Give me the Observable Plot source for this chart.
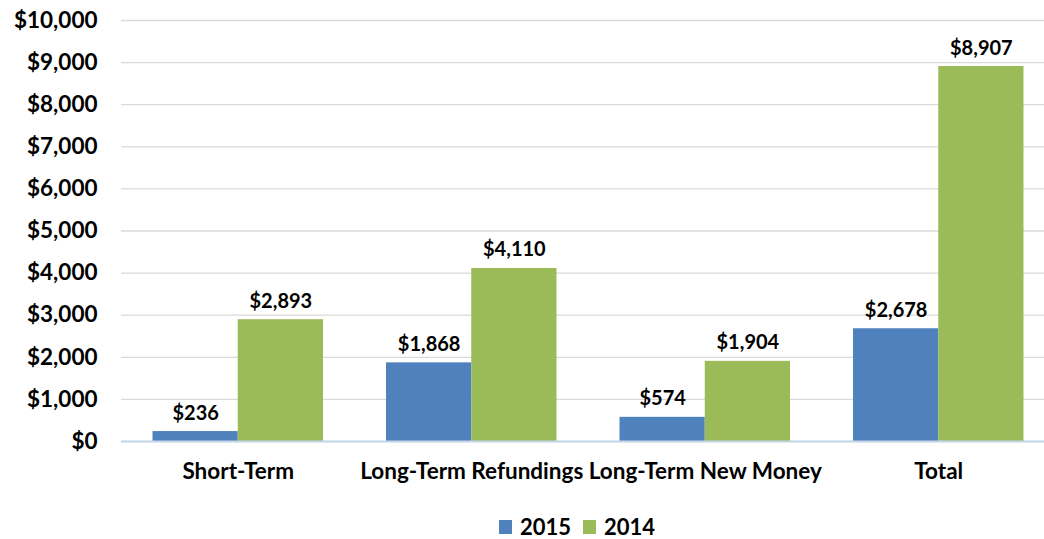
<!DOCTYPE html>
<html>
<head>
<meta charset="utf-8">
<script src="https://cdn.jsdelivr.net/npm/d3@7"></script>
<script src="https://cdn.jsdelivr.net/npm/@observablehq/plot@0.6"></script>
<style>
  html, body { margin: 0; padding: 0; background: #fff; overflow: hidden; width: 1044px; height: 539px; }
  body { position: relative; font-family: Lato, "Liberation Sans", sans-serif; }
  #chart { position: absolute; left: 0; top: 0; width: 1044px; overflow: hidden; }
  #legend { position: absolute; left: 499px; top: 516px; display: flex; align-items: center; font-weight: bold; font-size: 22px; line-height: 22px; color: #000; }
  #legend .sw { width: 13px; height: 14px; display: inline-block; margin-right: 8px; }
  #legend .item { display: flex; align-items: center; margin-right: 12px; }
</style>
</head>
<body>
<div id="chart"></div>
<div id="legend"></div>
<script>
const categories = ["Short-Term", "Long-Term Refundings", "Long-Term New Money", "Total"];
const series = ["2015", "2014"];
const values2015 = [236, 1868, 574, 2678];
const values2014 = [2893, 4110, 1904, 8907];
const yTicks = [0, 1000, 2000, 3000, 4000, 5000, 6000, 7000, 8000, 9000, 10000];
const colors = ["#4F81BD", "#9BBB59"];

const data = categories.flatMap((c, i) => [
  {cat: c, i, series: "2015", value: values2015[i]},
  {cat: c, i, series: "2014", value: values2014[i]}
]);

const bw = 0.365; // bar width in category units
const fmt = v => "$" + d3.format(",")(v);

const chart = Plot.plot({
  width: 1044,
  height: 500,
  marginLeft: 121,
  marginRight: -11,
  marginTop: 20,
  marginBottom: 59,
  style: {fontFamily: "Lato, 'Liberation Sans', sans-serif", background: "#fff", color: "#000", overflow: "hidden"},
  x: {type: "linear", domain: [-0.5, 3.5], axis: null},
  y: {domain: [0, 10000], axis: null},
  color: {domain: series, range: colors},
  marks: [
    Plot.gridY(yTicks, {stroke: "#D9D9D9", strokeOpacity: 1, strokeWidth: 1.3}),
    Plot.rectY(data, {
      x1: d => d.i + (d.series === "2015" ? -bw : 0),
      x2: d => d.i + (d.series === "2015" ? 0 : bw),
      y: "value",
      fill: "series"
    }),
    Plot.ruleY([0], {stroke: "#C5D5EA", strokeWidth: 2}),
    Plot.text(data, {
      x: d => d.i + (d.series === "2015" ? -bw / 2 : bw / 2),
      y: "value",
      text: d => fmt(d.value),
      lineAnchor: "bottom",
      dy: -12,
      fontSize: 20,
      fontWeight: "bold",
      fill: "#000"
    }),
    Plot.axisY(yTicks, {
      tickFormat: fmt,
      tickSize: 0,
      tickPadding: 24,
      fontSize: 22.5,
      fontWeight: "bold",
      fill: "#000",
      label: null
    }),
    Plot.axisX([0, 1, 2, 3], {
      tickFormat: i => categories[i],
      tickSize: 0,
      tickPadding: 22,
      fontSize: 22.5,
      fontWeight: "bold",
      fill: "#000",
      label: null
    })
  ]
});
document.getElementById("chart").appendChild(chart);

const legend = document.getElementById("legend");
series.forEach((s, k) => {
  const item = document.createElement("span");
  item.className = "item";
  const sw = document.createElement("span");
  sw.className = "sw";
  sw.style.background = colors[k];
  item.appendChild(sw);
  item.appendChild(document.createTextNode(s));
  legend.appendChild(item);
});
</script>
</body>
</html>
